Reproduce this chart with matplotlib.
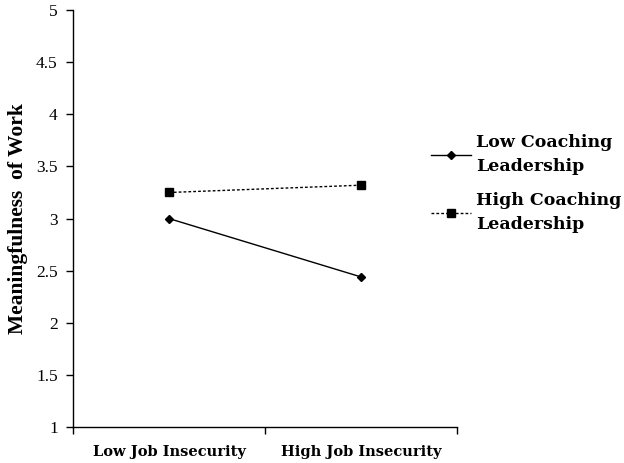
import matplotlib
matplotlib.use("Agg")
import matplotlib.pyplot as plt

categories = ["Low Job Insecurity", "High Job Insecurity"]
low_coaching = [3.00, 2.44]
high_coaching = [3.25, 3.32]
series_names = ["Low Coaching\nLeadership", "High Coaching\nLeadership"]
yticks = [1, 1.5, 2, 2.5, 3, 3.5, 4, 4.5, 5]

plt.rcParams['font.family'] = ['Liberation Serif', 'DejaVu Serif']

fig = plt.figure(figsize=(6.24, 4.63), dpi=100)
ax = fig.add_axes([0.117, 0.078, 0.615, 0.9])

x = list(range(len(categories)))
l1, = ax.plot(x, low_coaching, color='black', lw=1, marker='D', ms=4.5, label=series_names[0])
l2, = ax.plot(x, high_coaching, color='black', lw=1, ls=(0, (2, 1.5)), marker='s', ms=6, label=series_names[1])

ax.set_ylim(1, 5)
ax.set_yticks(yticks)
ax.set_yticklabels([f"{t:g}" for t in yticks], fontsize=12.5)
ax.set_xlim(-0.5, len(categories) - 0.5)
ax.set_xticks([-0.5, 0.5, 1.5])
ax.set_xticklabels([])
ax.set_xticks(x, minor=True)
ax.set_xticklabels(categories, minor=True, fontsize=10.5, fontweight='bold',
                   family=['DejaVu Serif'])
ax.tick_params(axis='x', which='minor', length=0, pad=13)
ax.tick_params(axis='both', which='major', direction='out', length=5, width=1, color='black')
ax.tick_params(axis='y', pad=6)

for s in ['top', 'right']:
    ax.spines[s].set_visible(False)
for s in ['left', 'bottom']:
    ax.spines[s].set_linewidth(1)

ax.set_ylabel("Meaningfulness  of Work", fontsize=15.5, fontweight='bold', labelpad=6)

leg = fig.legend(handles=[l1, l2], loc='upper left', bbox_to_anchor=(0.665, 0.745),
                 frameon=False, handlelength=2.3, handletextpad=0.3, labelspacing=1.0,
                 prop={'weight': 'bold', 'size': 12.5, 'family': 'DejaVu Serif'})
for t in leg.get_texts():
    t.set_linespacing(1.55)

fig.savefig("out.png", dpi=100)
